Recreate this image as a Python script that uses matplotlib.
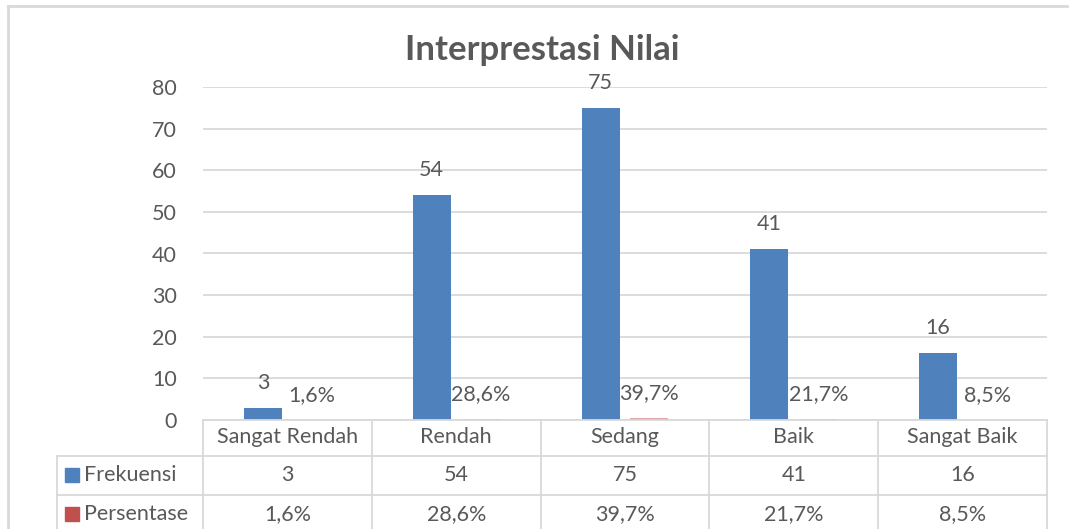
import matplotlib
matplotlib.use('Agg')
import matplotlib.pyplot as plt
import numpy as np
from matplotlib.transforms import blended_transform_factory
from matplotlib.patches import Rectangle
from matplotlib.lines import Line2D

categories = ['Sangat Rendah', 'Rendah', 'Sedang', 'Baik', 'Sangat Baik']
frekuensi = [3, 54, 75, 41, 16]
persentase = [0.016, 0.286, 0.397, 0.217, 0.085]
persentase_labels = ['1,6%', '28,6%', '39,7%', '21,7%', '8,5%']
series_names = ['Frekuensi', 'Persentase']
yticks = [0, 10, 20, 30, 40, 50, 60, 70, 80]
title = 'Interprestasi Nilai'

BLUE = '#4f81bd'
RED = '#c0504d'
TXT = '#595959'
GRID = '#d9d9d9'
FONT = 'Lato'
FS = 15.5

plt.rcParams['font.family'] = [FONT, 'DejaVu Sans']

W, H = 1069, 529
fig = plt.figure(figsize=(W / 100, H / 100), dpi=100)


def fx(px):
    return px / W


def fy(py):
    return 1 - py / H


ax = fig.add_axes([fx(203), fy(420), fx(1047) - fx(203), fy(87) - fy(420)])
x = np.arange(len(categories))
bw = 0.225
off = 0.145
ax.bar(x - off, frekuensi, bw, color=BLUE, zorder=3)
ax.bar(x + off, persentase, bw, color=RED, alpha=0.5, zorder=3)
ax.set_xlim(-0.5, len(categories) - 0.5)
ax.set_ylim(0, 80)
ax.set_yticks(yticks)
ax.set_xticks([])
ax.tick_params(axis='y', length=0, pad=19, labelsize=FS, labelcolor=TXT)
for s in ax.spines.values():
    s.set_visible(False)
ax.grid(axis='y', color=GRID, linewidth=1.3, zorder=0)

for xi, v in zip(x, frekuensi):
    ax.annotate(str(v), (xi - off, v), xytext=(0, 18), textcoords='offset points',
                ha='center', va='center', fontsize=FS, color=TXT)
for xi, v, lab in zip(x, persentase, persentase_labels):
    ax.annotate(lab, (xi + off, v), xytext=(0, 18), textcoords='offset points',
                ha='center', va='center', fontsize=FS, color=TXT)

fig.text(fx(542), fy(50), title, ha='center', va='center', fontsize=25,
         fontweight='bold', color=TXT)

# data table
tr = blended_transform_factory(ax.transData, fig.transFigure)
row_y = [420, 456, 495, 540]
lw = 1.3
fig.add_artist(Line2D([-0.5, 4.5], [fy(row_y[0])] * 2, transform=tr, color=GRID, lw=lw))
for yy in row_y[1:3]:
    fig.add_artist(Line2D([fx(57), fx(1047)], [fy(yy)] * 2, transform=fig.transFigure,
                          color=GRID, lw=lw))
for b in np.arange(len(categories) + 1) - 0.5:
    fig.add_artist(Line2D([b, b], [fy(row_y[0]), fy(row_y[3])], transform=tr,
                          color=GRID, lw=lw))
fig.add_artist(Line2D([fx(57)] * 2, [fy(row_y[1]), fy(row_y[3])], transform=fig.transFigure,
                      color=GRID, lw=lw))

centers = [437, 475, 514]
for xi, c in zip(x, categories):
    fig.text(xi, fy(centers[0]), c, transform=tr, ha='center', va='center',
             fontsize=FS, color=TXT)
for xi, v in zip(x, frekuensi):
    fig.text(xi, fy(centers[1]), str(v), transform=tr, ha='center', va='center',
             fontsize=FS, color=TXT)
for xi, lab in zip(x, persentase_labels):
    fig.text(xi, fy(centers[2]), lab, transform=tr, ha='center', va='center',
             fontsize=FS, color=TXT)
for name, col, cy in zip(series_names, [BLUE, RED], centers[1:]):
    fig.add_artist(Rectangle((fx(65), fy(cy + 7)), fx(14), 14 / H, transform=fig.transFigure,
                             color=col))
    fig.text(fx(84), fy(cy), name, ha='left', va='center', fontsize=FS, color=TXT)

fig.add_artist(Line2D([fx(8), fx(8)], [fy(6), 0], transform=fig.transFigure, color=GRID, lw=2))
fig.add_artist(Line2D([fx(8), 1], [fy(6), fy(6)], transform=fig.transFigure, color=GRID, lw=2))

fig.savefig('out.png', dpi=100)
